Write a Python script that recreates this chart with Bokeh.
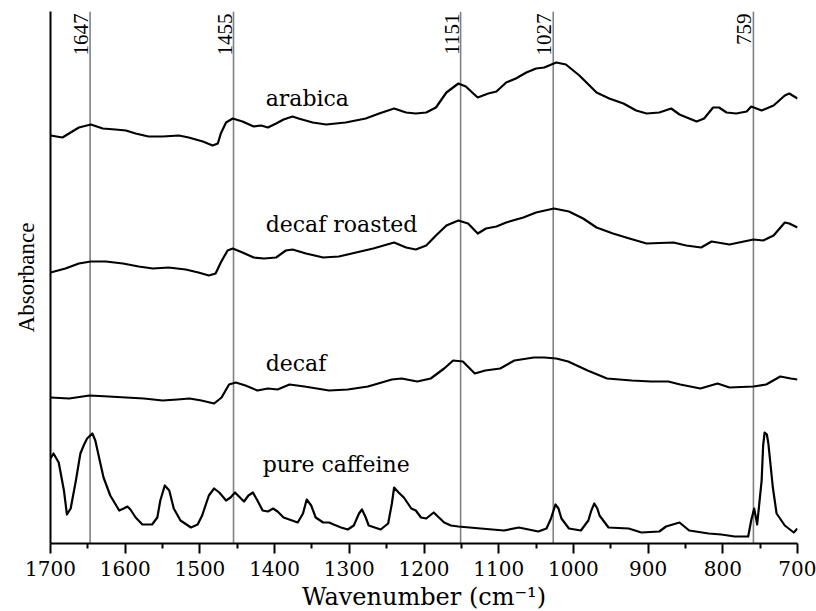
from bokeh.plotting import figure
from bokeh.models import Range1d, FixedTicker, Label
from bokeh.embed import file_html
from bokeh.resources import INLINE

# ---------------- data (wavenumber cm-1, stacked absorbance a.u.) ----------------
arabica_wn = [1700, 1684, 1673, 1662, 1646, 1630, 1613, 1599, 1586, 1569, 1550, 1528, 1515, 1496,
              1483, 1476, 1472, 1465, 1456, 1443, 1428, 1418, 1409, 1398, 1388, 1376, 1368, 1349,
              1331, 1305, 1278, 1260, 1240, 1224, 1211, 1197, 1184, 1170, 1154, 1144, 1134, 1128,
              1114, 1103, 1090, 1077, 1063, 1050, 1039, 1023, 1010, 992, 969, 952, 933, 916, 902,
              885, 869, 858, 845, 835, 825, 813, 805, 795, 782, 768, 762, 748, 732, 717, 711, 700]
arabica_ab = [4.08, 4.06, 4.11, 4.16, 4.19, 4.15, 4.14, 4.13, 4.10, 4.07, 4.07, 4.08, 4.06, 4.02,
              3.98, 4.00, 4.10, 4.21, 4.25, 4.22, 4.17, 4.18, 4.16, 4.20, 4.24, 4.27, 4.25, 4.21,
              4.19, 4.21, 4.25, 4.30, 4.35, 4.31, 4.30, 4.31, 4.36, 4.51, 4.60, 4.57, 4.50, 4.46,
              4.50, 4.52, 4.61, 4.65, 4.71, 4.75, 4.76, 4.81, 4.79, 4.68, 4.51, 4.45, 4.40, 4.33, 4.30,
              4.31, 4.35, 4.29, 4.25, 4.22, 4.25, 4.36, 4.36, 4.31, 4.30, 4.32, 4.37, 4.33, 4.38, 4.48, 4.50, 4.45]

roasted_wn = [1700, 1680, 1662, 1646, 1626, 1603, 1582, 1563, 1542, 1519, 1502, 1488, 1479, 1472,
              1463, 1456, 1443, 1428, 1414, 1398, 1385, 1376, 1358, 1335, 1314, 1291, 1268, 1240,
              1224, 1211, 1197, 1184, 1170, 1154, 1141, 1128, 1117, 1103, 1090, 1067, 1050, 1026,
              1006, 987, 969, 947, 925, 902, 866, 849, 829, 815, 791, 759, 746, 732, 717, 711, 700]
roasted_ab = [2.71, 2.75, 2.80, 2.82, 2.82, 2.80, 2.77, 2.75, 2.76, 2.74, 2.71, 2.68, 2.70, 2.81,
              2.93, 2.95, 2.91, 2.86, 2.85, 2.86, 2.93, 2.94, 2.90, 2.86, 2.87, 2.91, 2.95, 3.01,
              2.96, 2.94, 2.98, 3.08, 3.18, 3.23, 3.20, 3.10, 3.15, 3.17, 3.21, 3.26, 3.31, 3.35,
              3.32, 3.25, 3.16, 3.10, 3.05, 3.00, 3.01, 2.98, 2.96, 3.02, 2.99, 3.04, 3.03, 3.08, 3.21, 3.20, 3.16]

decaf_wn = [1700, 1675, 1648, 1622, 1599, 1575, 1550, 1530, 1514, 1498, 1481, 1471, 1461, 1452,
            1439, 1423, 1409, 1396, 1380, 1360, 1327, 1302, 1275, 1243, 1230, 1209, 1191, 1173,
            1161, 1148, 1132, 1118, 1098, 1079, 1053, 1039, 1023, 1007, 981, 955, 922, 896, 873,
            857, 830, 807, 791, 759, 742, 723, 709, 700]
decaf_ab = [1.46, 1.45, 1.48, 1.47, 1.46, 1.45, 1.43, 1.44, 1.45, 1.43, 1.40, 1.46, 1.59, 1.61,
            1.58, 1.53, 1.55, 1.54, 1.59, 1.57, 1.53, 1.54, 1.57, 1.64, 1.65, 1.62, 1.65, 1.75,
            1.83, 1.82, 1.70, 1.73, 1.75, 1.83, 1.86, 1.86, 1.85, 1.82, 1.73, 1.65, 1.63, 1.62, 1.62,
            1.59, 1.55, 1.60, 1.56, 1.57, 1.59, 1.67, 1.65, 1.64]

caffeine_wn = [1700, 1696, 1689, 1682, 1678, 1673, 1666, 1660, 1655, 1651, 1644, 1640, 1635, 1629,
               1620, 1608, 1602, 1597, 1593, 1586, 1577, 1564, 1557, 1553, 1547, 1541, 1535, 1526,
               1512, 1503, 1497, 1488, 1481, 1474, 1465, 1459, 1453, 1441, 1435, 1429, 1423, 1416,
               1409, 1402, 1396, 1388, 1369, 1362, 1357, 1351, 1345, 1335, 1327, 1321, 1311, 1302,
               1294, 1287, 1283, 1278, 1274, 1258, 1248, 1243, 1240, 1234, 1227, 1217, 1211, 1204,
               1197, 1187, 1173, 1164, 1154, 1124, 1093, 1073, 1047, 1036, 1030, 1024, 1020, 1016,
               1006, 990, 980, 976, 972, 968, 965, 953, 926, 909, 885, 876, 858, 845, 819, 802,
               784, 766, 762, 758, 754, 748, 746, 744, 741, 739, 733, 728, 717, 705, 700]
caffeine_ab = [0.85, 0.90, 0.81, 0.53, 0.29, 0.35, 0.63, 0.90, 0.99, 1.05, 1.10, 1.03, 0.86, 0.66,
               0.48, 0.33, 0.35, 0.37, 0.34, 0.26, 0.19, 0.19, 0.26, 0.43, 0.58, 0.53, 0.35, 0.23,
               0.16, 0.19, 0.28, 0.48, 0.55, 0.51, 0.43, 0.46, 0.51, 0.42, 0.48, 0.51, 0.43, 0.33,
               0.32, 0.35, 0.32, 0.26, 0.21, 0.30, 0.44, 0.38, 0.26, 0.21, 0.21, 0.19, 0.16, 0.14,
               0.18, 0.30, 0.34, 0.26, 0.18, 0.14, 0.20, 0.40, 0.56, 0.51, 0.46, 0.35, 0.33, 0.26,
               0.25, 0.31, 0.21, 0.18, 0.17, 0.15, 0.13, 0.16, 0.12, 0.15, 0.25, 0.39, 0.35, 0.25,
               0.15, 0.13, 0.23, 0.33, 0.40, 0.35, 0.28, 0.16, 0.15, 0.11, 0.12, 0.17, 0.21, 0.13, 0.10, 0.09,
               0.07, 0.07, 0.23, 0.35, 0.19, 0.63, 0.98, 1.11, 1.09, 1.00, 0.56, 0.30, 0.18, 0.11, 0.15]

peak_lines = [1647, 1455, 1151, 1027, 759]
peak_labels = ["1647", "1455", "1151", "1027", "759"]

series_names = ["arabica", "decaf roasted", "decaf", "pure caffeine"]

x_ticks = [1700, 1600, 1500, 1400, 1300, 1200, 1100, 1000, 900, 800, 700]
x_minor = [1650, 1550, 1450, 1350, 1250, 1150, 1050, 950, 850, 750]

# ---------------- figure ----------------
SERIF = "DejaVu Serif"
TIMES = "Liberation Serif"
p = figure(frame_width=747, frame_height=532, output_backend="svg", toolbar_location=None,
           x_range=Range1d(1700, 700), y_range=Range1d(0, 5.32),
           min_border_left=50, min_border_right=19, min_border_top=11, min_border_bottom=0)
p.background_fill_color = "white"
p.border_fill_color = "white"
p.outline_line_color = None
p.xgrid.grid_line_color = None
p.ygrid.grid_line_color = None

# vertical reference lines
for wn in peak_lines:
    p.segment(x0=wn, y0=0, x1=wn, y1=5.32, line_color="#808080", line_width=1.6)

# spectra
for xs, ys in [(arabica_wn, arabica_ab), (roasted_wn, roasted_ab),
               (decaf_wn, decaf_ab), (caffeine_wn, caffeine_ab)]:
    p.line(xs, ys, line_color="black", line_width=2.2, line_join="round")

# peak labels (rotated)
for wn, lab in zip(peak_lines, peak_labels):
    p.add_layout(Label(x=wn, y=5.32, text=lab, angle=1.5708, text_align="right",
                       text_baseline="bottom", x_offset=-2, y_offset=-2,
                       text_font=TIMES, text_font_size="21px", text_color="black"))

# series names
name_pos = [(1412, 4.45), (1412, 3.19), (1412, 1.80), (1416, 0.79)]
for name, (nx, ny) in zip(series_names, name_pos):
    p.add_layout(Label(x=nx, y=ny, text=name, text_align="left", text_baseline="alphabetic",
                       text_font=SERIF, text_font_size="22px", text_color="black"))

# x axis
xa = p.xaxis[0]
xa.ticker = FixedTicker(ticks=x_ticks, minor_ticks=x_minor)
xa.axis_label = "Wavenumber (cm\u207b\u00b9)"
xa.axis_label_text_font = SERIF
xa.axis_label_text_font_size = "24px"
xa.axis_label_text_font_style = "normal"
xa.axis_label_text_color = "black"
xa.axis_label_standoff = 4
xa.major_label_text_font = SERIF
xa.major_label_text_font_size = "20px"
xa.major_label_text_color = "black"
xa.major_label_standoff = 7
xa.axis_line_width = 2
xa.axis_line_color = "black"
xa.major_tick_out = 10
xa.major_tick_in = 0
xa.minor_tick_out = 5
xa.minor_tick_in = 0
xa.major_tick_line_width = 2
xa.minor_tick_line_width = 2
xa.major_tick_line_color = "black"
xa.minor_tick_line_color = "black"

# y axis
ya = p.yaxis[0]
ya.ticker = FixedTicker(ticks=[])
ya.axis_label = "Absorbance"
ya.axis_label_text_font = TIMES
ya.axis_label_text_font_size = "23px"
ya.axis_label_text_font_style = "normal"
ya.axis_label_text_color = "black"
ya.axis_label_standoff = 12
ya.axis_line_width = 2
ya.axis_line_color = "black"
ya.major_tick_out = 0
ya.minor_tick_out = 0
ya.major_label_text_font_size = "0px"

open("out.html", "w").write(file_html(p, INLINE))
